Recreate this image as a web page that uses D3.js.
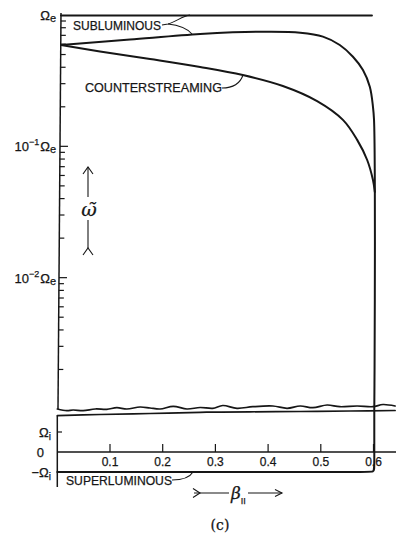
<!DOCTYPE html>
<html><head><meta charset="utf-8">
<script src="https://cdn.jsdelivr.net/npm/d3@7"></script>
<style>body{margin:0;background:#fff}svg{display:block}text{stroke:#161616;stroke-width:0.25px}</style>
</head><body>
<svg id="c" width="396" height="535"></svg>
<script>
// ---------- data ----------
const xTicks = [0.1, 0.2, 0.3, 0.4, 0.5, 0.6];
const xTickLabels = ["0.1", "0.2", "0.3", "0.4", "0.5", "0.6"];
const logMajor = [1, 0.1, 0.01];            // in units of Ω_e
const logMajorPrefix = ["", "10", "10"];
const logMajorExp = ["", "−1", "−2"];
const linTicks = [1, 0, -1];                 // in units of Ω_i
const linTickLabels = ["Ω", "0", "−Ω"];
const linTickSub = ["i", "", "i"];

// Ω_e asymptote line
const topBeta = [0.007, 0.597];
const topOmega = [0.99, 0.99];
// subluminous branch (ω/Ω_e)
const subBeta  = [0.007, 0.138, 0.271, 0.333, 0.398, 0.461, 0.504, 0.536, 0.561, 0.580, 0.593, 0.599, 0.601, 0.6025, 0.6025, 0.602, 0.6015];
const subOmega = [0.591, 0.651, 0.717, 0.738, 0.746, 0.733, 0.684, 0.591, 0.481, 0.381, 0.284, 0.200, 0.159, 0.0554, 0.0068, 0.002, 0.001];
// counterstreaming branch (ω/Ω_e)
const cntBeta  = [0.007, 0.081, 0.176, 0.271, 0.352, 0.428, 0.493, 0.542, 0.569, 0.588, 0.599, 0.6025];
const cntOmega = [0.591, 0.527, 0.462, 0.402, 0.349, 0.288, 0.221, 0.159, 0.112, 0.0787, 0.0554, 0.045];
// superluminous / lower continuation (ω/Ω_i, linear section)
const supBeta = [0, 0.3, 0.585, 0.6015, 0.6015, 0.6015];
const supV    = [-1, -1, -1, -1, -0.8, 2.1];
// axis-break lines (ω/Ω_i)
const ubBeta = [0.000,0.018,0.030,0.049,0.072,0.094,0.113,0.132,0.157,0.176,0.195,0.220,0.246,0.271,0.295,0.314,0.341,0.371,0.409,0.436,0.461,0.485,0.512,0.536,0.569,0.599,0.618,0.641];
const ubV    = [2.15,2.065,2.10,2.065,2.15,2.135,2.215,2.15,2.25,2.20,2.15,2.285,2.15,2.225,2.185,2.325,2.185,2.265,2.30,2.185,2.30,2.215,2.35,2.265,2.30,2.265,2.375,2.30];
const lbBeta = [0.000, 0.081, 0.176, 0.271, 0.366, 0.461, 0.556, 0.641];
const lbV    = [1.815, 1.875, 1.925, 1.985, 2.01, 2.025, 2.05, 2.075];

// ---------- scales ----------
const svg = d3.select("#c");
const ink = "#161616";
const sans = "'Liberation Sans', Arial, Helvetica, sans-serif";
const serif = "'DejaVu Serif', 'Liberation Serif', serif";

const x = d3.scaleLinear().domain([0, 0.6]).range([57.3, 373.5]);
const yLog = d3.scaleLog().domain([0.001, 1]).range([409, 15]);
const yLin = d3.scaleLinear().domain([-1, 1]).range([472, 432]);
const axX = y => 61 - 3 * (y - 13) / 396;   // slightly slanted hand-drawn axis

const zip = (a, b) => a.map((v, i) => [v, b[i]]);
const lineLog = d3.line().x(d => x(d[0])).y(d => yLog(d[1])).curve(d3.curveCatmullRom.alpha(0.5));
const lineLin = d3.line().x(d => x(d[0])).y(d => yLin(d[1])).curve(d3.curveCatmullRom.alpha(0.5));
const lineLinB = d3.line().x(d => x(d[0])).y(d => yLin(d[1])).curve(d3.curveBasis);

// ---------- log axis ----------
svg.append("line").attr("x1", axX(13)).attr("y1", 13).attr("x2", axX(409)).attr("y2", 409)
  .attr("stroke", ink).attr("stroke-width", 1.5);
const logTicks = yLog.ticks().filter(v => v > 0.0011 && v < 0.999);
logTicks.forEach(v => {
  const yy = yLog(v);
  const major = logMajor.some(m => Math.abs(m - v) / m < 1e-6);
  svg.append("line").attr("x1", axX(yy)).attr("x2", axX(yy) + (major ? 8 : 5))
    .attr("y1", yy).attr("y2", yy).attr("stroke", ink).attr("stroke-width", 1.2);
});
logMajor.forEach((v, i) => {
  const yy = yLog(v);
  const t = svg.append("text").attr("x", 56).attr("y", yy + 5).attr("text-anchor", "end")
    .attr("font-family", sans).attr("font-size", 13).attr("fill", ink);
  if (logMajorPrefix[i]) {
    t.append("tspan").text(logMajorPrefix[i]);
    t.append("tspan").attr("dy", -6).attr("font-size", 9).text(logMajorExp[i]);
    t.append("tspan").attr("dy", 6).attr("dx", 1).text("Ω");
  } else {
    t.append("tspan").text("Ω");
  }
  t.append("tspan").attr("dy", 2).attr("font-size", 11).text("e");
});

// ---------- linear section axis ----------
svg.append("line").attr("x1", 57.3).attr("x2", 57.3).attr("y1", 415.7).attr("y2", 487)
  .attr("stroke", ink).attr("stroke-width", 1.5);
svg.append("line").attr("x1", 57.3).attr("x2", 62).attr("y1", yLin(1)).attr("y2", yLin(1))
  .attr("stroke", ink).attr("stroke-width", 1.2);
linTicks.forEach((v, i) => {
  const t = svg.append("text").attr("x", v === 0 ? 44 : 51).attr("y", yLin(v) + 5)
    .attr("text-anchor", "end").attr("font-family", sans).attr("font-size", 13).attr("fill", ink);
  t.append("tspan").text(linTickLabels[i]);
  if (linTickSub[i]) t.append("tspan").attr("dy", 3).attr("font-size", 10).text(linTickSub[i]);
});

// x axis at ω = 0
svg.append("line").attr("x1", 57.3).attr("x2", 396).attr("y1", yLin(0)).attr("y2", yLin(0))
  .attr("stroke", ink).attr("stroke-width", 1.5);
xTicks.forEach((v, i) => {
  svg.append("line").attr("x1", x(v)).attr("x2", x(v)).attr("y1", yLin(0)).attr("y2", yLin(0) - 8)
    .attr("stroke", ink).attr("stroke-width", 1.2);
  svg.append("text").attr("x", x(v)).attr("y", yLin(0) + 14).attr("text-anchor", "middle")
    .attr("font-family", sans).attr("font-size", 12).attr("fill", ink).text(xTickLabels[i]);
});

// ---------- curves ----------
const curve = (d, gen, w) => svg.append("path").attr("d", gen(d)).attr("fill", "none")
  .attr("stroke", ink).attr("stroke-width", w).attr("stroke-linejoin", "round").attr("stroke-linecap", "round");
curve(zip(topBeta, topOmega), lineLog, 2);
curve(zip(subBeta, subOmega), lineLog, 2);
curve(zip(cntBeta, cntOmega), lineLog, 2);
curve(zip(supBeta, supV), lineLinB, 2);
curve(zip(ubBeta, ubV), lineLin, 1.7);
curve(zip(lbBeta, lbV), lineLin, 1.7);

// ---------- labels & leaders ----------
const lab = (txt, x0, y0, len, fs) => svg.append("text").attr("x", x0).attr("y", y0)
  .attr("font-family", sans).attr("font-size", fs).attr("fill", ink)
  .attr("textLength", len).attr("lengthAdjust", "spacingAndGlyphs").text(txt);
lab("SUBLUMINOUS", 73, 30, 88, 13);
lab("COUNTERSTREAMING", 85, 92, 137, 13.5);
lab("SUPERLUMINOUS", 66, 485, 106, 12.5);

const leader = d => svg.append("path").attr("d", d).attr("fill", "none").attr("stroke", ink).attr("stroke-width", 1.1);
leader("M162,25 L168,24 C176,22 182,16 190,15");
leader("M168,24 C177,25 186,27 192,34");
leader("M222,88 C232,88 240,84 243,75");
leader("M172,480 C183,480 190,477 193,472");

// ω̃ arrow
leader("M88,167 L88,197");
leader("M88,220 L88,248");
leader("M83,174 L88,167 L93,174");
leader("M83,255 L88,248 L93,255");
svg.append("text").attr("x", 89).attr("y", 216).attr("text-anchor", "middle")
  .attr("font-family", serif).attr("font-style", "italic").attr("font-size", 19).attr("fill", ink).text("ω\u0303");

// β∥ arrow
leader("M194,493 L229,493");
leader("M193,488.5 L200,493 L193,497.5");
leader("M248,493 L282,493");
leader("M275,489.5 L282,493 L275,496.5");
const bt = svg.append("text").attr("x", 231).attr("y", 499)
  .attr("font-family", serif).attr("font-style", "italic").attr("font-size", 17).attr("fill", ink);
bt.append("tspan").text("β");
bt.append("tspan").attr("dy", 5).attr("font-size", 9).attr("font-style", "normal")
  .attr("font-family", sans).text("II");

svg.append("text").attr("x", 220).attr("y", 530).attr("text-anchor", "middle")
  .attr("font-family", serif).attr("font-size", 14).attr("fill", ink).text("(c)");
</script>
</body></html>
